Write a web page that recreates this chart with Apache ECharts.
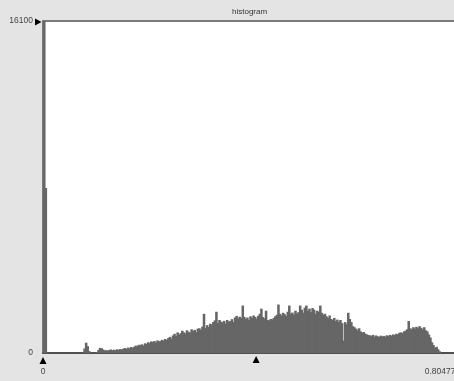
<!DOCTYPE html>
<html>
<head>
<meta charset="utf-8">
<script src="https://cdn.jsdelivr.net/npm/echarts@6/dist/echarts.min.js"></script>
<style>
html,body{margin:0;padding:0;background:#e4e4e4;}
#chart{width:454px;height:381px;}
</style>
</head>
<body>
<div id="chart"></div>
<script>
// ---- data ----
var titleText = 'histogram';
var xMin = 0;
var xMaxLabel = 0.80477;      // last value of the data range
var xAxisMax = 0.8331;        // axis extent (plot runs a bit past the data)
var yMax = 16100;
var xTickLabels = [0, 0.80477];
var yTickLabels = [0, 16100];
var markerValue = 0.432;      // threshold handle on the x axis

// histogram counts, 256 bins from 0 to 0.80477
var counts = [
  16100, 8000, 0, 0, 0, 0, 0, 0, 0, 0,
  0, 0, 0, 0, 0, 0, 0, 0, 0, 0,
  0, 0, 0, 0, 0, 0, 220, 500, 330, 90,
  20, 0, 10, 0, 30, 150, 250, 230, 170, 120,
  140, 110, 150, 170, 130, 160, 140, 180, 150, 190,
  170, 210, 240, 200, 260, 230, 290, 250, 300, 360,
  330, 400, 380, 420, 360, 470, 440, 520, 480, 560,
  530, 580, 500, 610, 560, 590, 640, 600, 680, 630,
  720, 780, 700, 850, 930, 820, 1000, 890, 960, 1080,
  1000, 950, 1100, 1030, 980, 1150, 1060, 1120, 1010, 1180,
  1200, 1130, 1280, 1900, 1210, 1350, 1260, 1420, 1380, 1500,
  1580, 2000, 1450, 1600, 1520, 1480, 1560, 1430, 1600, 1510,
  1550, 1640, 1500, 1720, 1800, 1680, 1760, 1700, 2300, 1750,
  1650, 1720, 1600, 1780, 1690, 1820, 1750, 1660, 1800, 1900,
  2150, 1740, 1680, 2050, 1600, 1580, 1650, 1620, 1700, 1780,
  1850, 2350, 1900, 1820, 1950, 1880, 1790, 2000, 2300, 1900,
  1960, 1850, 2050, 1920, 1980, 2300, 2100, 1950, 2200, 2300,
  2050, 2150, 1980, 2180, 2100, 1900, 2050, 2000, 2300, 1950,
  1850, 1900, 1780, 1700, 1820, 1650, 1600, 1700, 1550, 1620,
  1500, 1600, 1450, 600, 1500, 1400, 1950, 1650, 1500, 1300,
  1250, 1180, 1100, 1200, 1050, 980, 1020, 940, 900, 870,
  860, 820, 880, 790, 850, 810, 780, 840, 800, 830,
  790, 860, 820, 880, 840, 900, 870, 930, 900, 980,
  1000, 960, 1050, 1080, 1150, 1550, 1200, 1150, 1250, 1180,
  1270, 1200, 1300, 1220, 1150, 1250, 1100, 1050, 900, 750,
  520, 380, 250, 300, 180, 80
];

// ---- build bins ----
var binW = (xMaxLabel - xMin) / counts.length;
var bins = counts.map(function (c, i) {
  return [xMin + i * binW, xMin + (i + 1) * binW, c];
});

var FONT = 'Liberation Sans';
var chart = echarts.init(document.getElementById('chart'), null, {renderer: 'canvas'});

var option = {
  backgroundColor: '#e4e4e4',
  animation: false,
  title: {
    text: titleText,
    left: 227,
    top: 3,
    textStyle: {fontSize: 8, fontWeight: 'normal', color: '#333', fontFamily: FONT}
  },
  grid: {
    left: 43, right: 0, top: 21, bottom: 28,
    outerBoundsMode: 'none', containLabel: false,
    show: true, backgroundColor: '#ffffff', borderWidth: 0
  },
  xAxis: [{
    type: 'value', min: xMin, max: xAxisMax, position: 'bottom',
    axisLine: {show: true, onZero: false, lineStyle: {color: '#505050', width: 2}},
    axisTick: {show: false},
    splitLine: {show: false},
    axisLabel: {
      customValues: xTickLabels, margin: 14, fontSize: 8.5, color: '#444', fontFamily: FONT,
      hideOverlap: false,
      formatter: function (v) { return String(v); }
    }
  }, {
    type: 'value', min: xMin, max: xAxisMax, position: 'top',
    axisLine: {show: true, onZero: false, lineStyle: {color: '#7a7a7a', width: 2}},
    axisTick: {show: false}, axisLabel: {show: false}, splitLine: {show: false}
  }],
  yAxis: {
    type: 'value', min: 0, max: yMax,
    axisLine: {show: true, onZero: false, lineStyle: {color: '#7a7a7a', width: 2}},
    axisTick: {show: false},
    splitLine: {show: false},
    axisLabel: {
      customValues: yTickLabels, margin: 10, fontSize: 8.5, color: '#444', fontFamily: FONT,
      formatter: function (v) { return String(v); }
    }
  },
  series: [{
    type: 'custom',
    xAxisIndex: 0, yAxisIndex: 0,
    encode: {x: [0, 1], y: 2},
    data: bins,
    renderItem: function (params, api) {
      var p0 = api.coord([api.value(0), api.value(2)]);
      var p1 = api.coord([api.value(1), 0]);
      return {
        type: 'rect',
        shape: {x: p0[0], y: p0[1], width: p1[0] - p0[0] + 1, height: p1[1] - p0[1]},
        style: {fill: '#666666'}
      };
    }
  }]
};
chart.setOption(option);

// ---- handle markers, placed through the axis scales ----
var x0 = chart.convertToPixel({xAxisIndex: 0}, xMin);
var xm = chart.convertToPixel({xAxisIndex: 0}, markerValue);
var yTop = chart.convertToPixel({yAxisIndex: 0}, yMax);
var yBase = chart.convertToPixel({yAxisIndex: 0}, 0);
function upTri(x, yTip) {
  return {type: 'polygon', shape: {points: [[x, yTip], [x - 3.5, yTip + 7], [x + 3.5, yTip + 7]]},
          style: {fill: '#000'}, z: 100};
}
chart.setOption({
  graphic: [
    upTri(x0, yBase + 4),
    upTri(xm, yBase + 3),
    {type: 'polygon', shape: {points: [[x0 - 1.5, yTop + 1], [x0 - 8, yTop - 2.5], [x0 - 8, yTop + 4.5]]},
     style: {fill: '#000'}, z: 100}
  ]
});
</script>
</body>
</html>
